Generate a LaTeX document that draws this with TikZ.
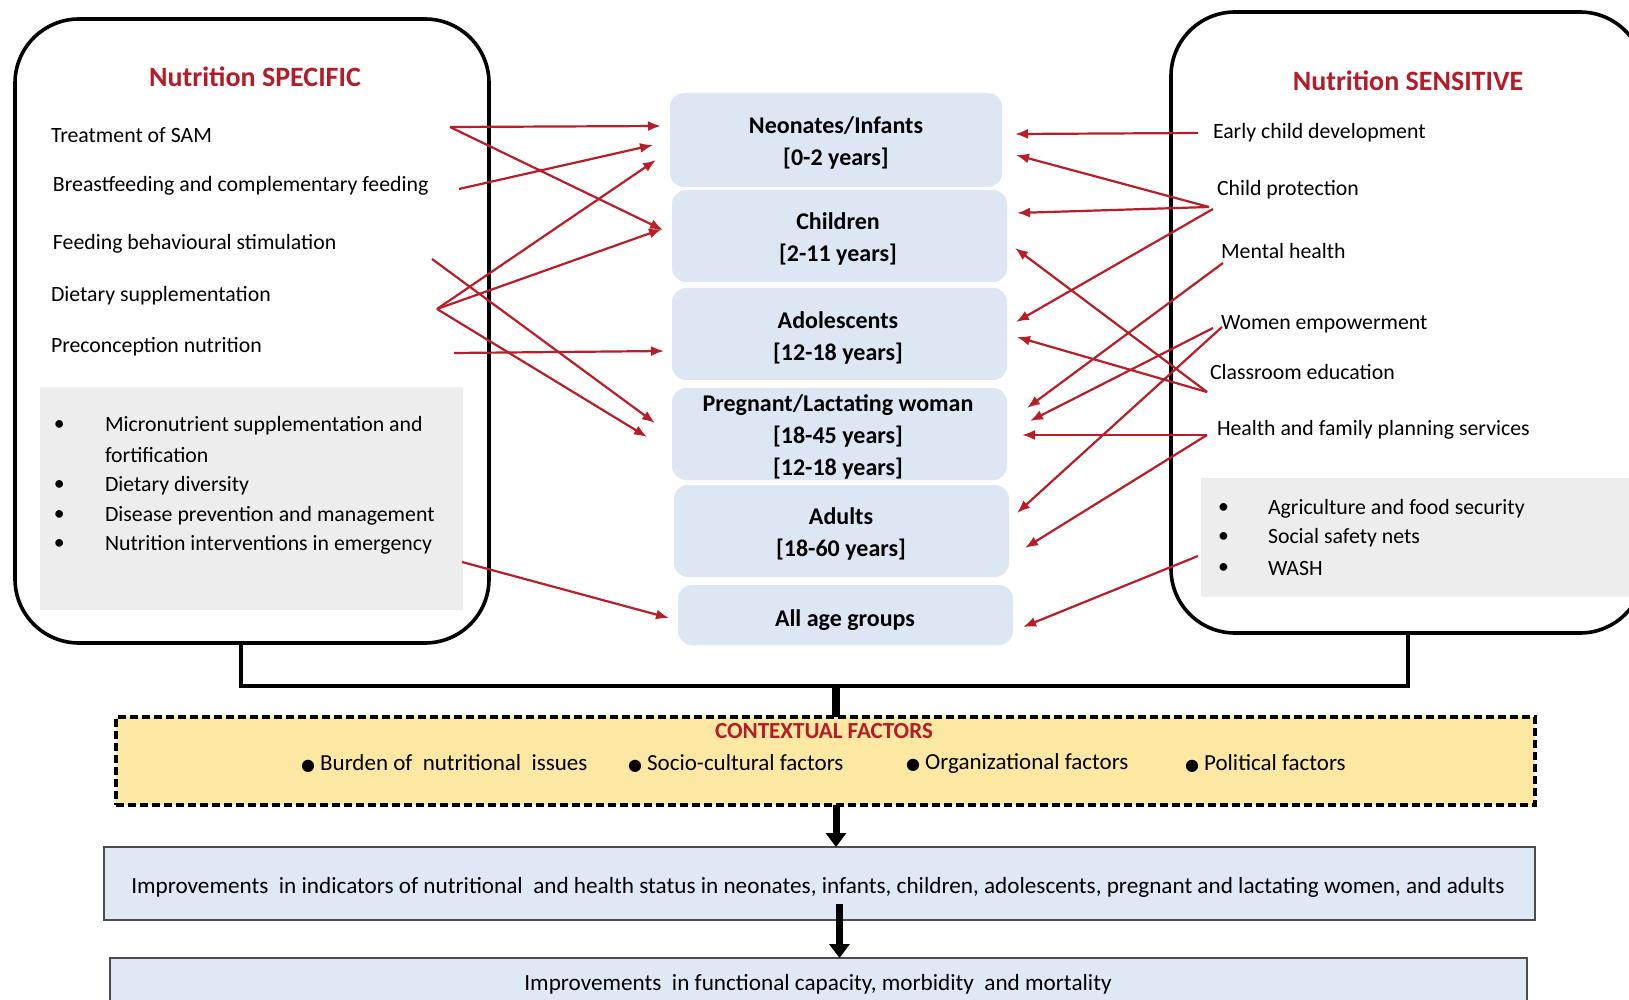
\documentclass[tikz,border=0pt]{standalone}
\usepackage{fontspec}
\setmainfont{Carlito}
\newfontfamily\dejavu{DejaVu Sans}
\usetikzlibrary{arrows.meta,fit,calc}
\definecolor{nred}{RGB}{180,28,40}
\definecolor{arred}{RGB}{185,30,40}
\definecolor{midblue}{RGB}{221,231,243}
\definecolor{greybg}{RGB}{237,237,237}
\definecolor{ctxyellow}{RGB}{252,232,162}
\definecolor{impblue}{RGB}{222,233,245}
\begin{document}
\begin{tikzpicture}[x=0.5pt,y=-0.5pt,
  every node/.style={inner sep=0pt, outer sep=0pt},
  bigbox/.style={draw=black, line width=1.8pt, rounded corners=32pt},
  greybox/.style={fill=greybg},
  agebox/.style={fill=midblue, rounded corners=7pt},
  agetxt/.style={align=center, font=\fontsize{12}{16.2}\selectfont\bfseries},
  title/.style={font=\fontsize{14}{16}\selectfont\bfseries, text=nred},
  item/.style={font=\fontsize{10.9}{12}\selectfont, anchor=west},
  bul/.style={font=\fontsize{10.9}{12}\selectfont, anchor=west},
  rarr/.style={draw=arred, line width=1.1pt, -{Latex[length=6.5pt,width=5pt]}},
  trunk/.style={draw=black, line width=2.2pt},
  trunkc/.style={draw=black, line width=4pt},
  bigarrow/.style={draw=black, line width=3.5pt, -{Triangle[length=7pt,width=10pt]}},
  ctxbox/.style={fill=ctxyellow, draw=black, line width=2pt, dash pattern=on 4pt off 2pt},
  ctxtitle/.style={font=\fontsize{11.5}{13}\selectfont\bfseries, text=nred},
  ctxitem/.style={font=\fontsize{11.5}{13}\selectfont, anchor=west},
  impbox/.style={fill=impblue, draw=black!70, line width=0.6pt},
  imptxt/.style={font=\fontsize{11.6}{13}\selectfont}
]
\useasboundingbox[fill=white] (0,0) rectangle (1629,1000);

% ---------- left: nutrition specific ----------
\node[bigbox, fit={(15,19)(489,643)}] (spec) {};
\node[greybox, fit={(40,387)(463,610)}] (specgrey) {};
\node[title] (spect) at (255,77) {Nutrition SPECIFIC};
\node[item] (sam) at (51,135) {Treatment of SAM};
\node[item] (bf)  at (53,186) {Breastfeeding and complementary feeding};
\node[item] (fbs) at (53,244) {Feeding behavioural stimulation};
\node[item] (ds)  at (51,296) {Dietary supplementation};
\node[item] (pcn) at (51,347) {Preconception nutrition};
\node[bul]  (lb1) at (54,426) {•};
\node[item] (lm1) at (105,426) {Micronutrient supplementation and};
\node[item] (lm1b) at (105,455) {fortification};
\node[bul]  (lb2) at (54,486) {•};
\node[item] (lm2) at (105,486) {Dietary diversity};
\node[bul]  (lb3) at (54,516) {•};
\node[item] (lm3) at (105,516) {Disease prevention and management};
\node[bul]  (lb4) at (54,545) {•};
\node[item] (lm4) at (105,545) {Nutrition interventions in emergency};

% ---------- right: nutrition sensitive ----------
\node[bigbox, fit={(1171,12)(1644,633)}] (sens) {};
\node[greybox, fit={(1201,478)(1640,597)}] (sensgrey) {};
\node[title] (senst) at (1408,81) {Nutrition SENSITIVE};
\node[item] (ecd) at (1213,133) {Early child development};
\node[item] (cp)  at (1217,190) {Child protection};
\node[item] (mh)  at (1221,251) {Mental health};
\node[item] (we)  at (1221,324) {Women empowerment};
\node[item] (ce)  at (1210,372) {Classroom education};
\node[item] (hf)  at (1217,430) {Health and family planning services};
\node[bul]  (rb1) at (1218,509) {•};
\node[item] (rm1) at (1268,509) {Agriculture and food security};
\node[bul]  (rb2) at (1218,538) {•};
\node[item] (rm2) at (1268,538) {Social safety nets};
\node[bul]  (rb3) at (1218,569) {•};
\node[item] (rm3) at (1268,569) {WASH};

% ---------- middle: age groups ----------
\node[agebox, fit={(670,93)(1002,187)}] (neo) {};
\node[agebox, fit={(672,190)(1007,282)}] (chi) {};
\node[agebox, fit={(672,288)(1007,380)}] (ado) {};
\node[agebox, fit={(672,388)(1007,480)}] (pre) {};
\node[agebox, fit={(674,485)(1009,577)}] (adu) {};
\node[agebox, fit={(678,585)(1013,645)}] (all) {};
\node[agetxt] (neot) at (836,143) {Neonates/Infants\\{[}0-2 years{]}};
\node[agetxt] (chit) at (838,239) {Children\\{[}2-11 years{]}};
\node[agetxt] (adot) at (838,338) {Adolescents\\{[}12-18 years{]}};
\node[agetxt] (pret) at (838,437) {Pregnant/Lactating woman\\{[}18-45 years{]}\\{[}12-18 years{]}};
\node[agetxt] (adut) at (841,534) {Adults\\{[}18-60 years{]}};
\node[agetxt] (allt) at (845,620) {All age groups};

% ---------- red connectors: left ----------
\coordinate (sSAM) at (450,127);
\coordinate (sBF)  at (459,189);
\coordinate (sFB)  at (432,259);
\coordinate (sDS)  at (437,309);
\coordinate (sPC)  at (454,353);
\coordinate (sGL)  at (462,562);
\coordinate (tNeo1) at (661,126);
\coordinate (tNeo2) at (653,145);
\coordinate (tNeo3) at (656,160);
\coordinate (tChi1) at (663,230);
\coordinate (tChi2) at (662,229);
\coordinate (tAdo1) at (664,351);
\coordinate (tPre1) at (655,423);
\coordinate (tPre2) at (647,437);
\coordinate (tAll1) at (669,618);
\draw[rarr] (sSAM) -- (tNeo1);
\draw[rarr] (sSAM) -- (tChi1);
\draw[rarr] (sBF) -- (tNeo2);
\draw[rarr] (sDS) -- (tNeo3);
\draw[rarr] (sDS) -- (tChi2);
\draw[rarr] (sDS) -- (tPre2);
\draw[rarr] (sFB) -- (tPre1);
\draw[rarr] (sPC) -- (tAdo1);
\draw[rarr] (sGL) -- (tAll1);

% ---------- red connectors: right ----------
\coordinate (sECD) at (1198,133);
\coordinate (sCP)  at (1209,207);
\coordinate (sCPb) at (1213,209);
\coordinate (sMH)  at (1223,263);
\coordinate (sWE)  at (1213,328);
\coordinate (sWEb) at (1222,327);
\coordinate (sCE)  at (1207,392);
\coordinate (sHF)  at (1207,435);
\coordinate (sGR)  at (1198,556);
\coordinate (uNeo1) at (1015,134);
\coordinate (uNeo2) at (1016,155);
\coordinate (uChi1) at (1017,213);
\coordinate (uChi2) at (1015,248);
\coordinate (uAdo1) at (1016,322);
\coordinate (uAdo2) at (1017,337);
\coordinate (uPre1) at (1027,408);
\coordinate (uPre2) at (1030,421);
\coordinate (uPre3) at (1022,435);
\coordinate (uAdu1) at (1017,513);
\coordinate (uAdu2) at (1025,548);
\coordinate (uAll1) at (1023,627);
\draw[rarr] (sECD) -- (uNeo1);
\draw[rarr] (sCP) -- (uNeo2);
\draw[rarr] (sCP) -- (uChi1);
\draw[rarr] (sCPb) -- (uAdo1);
\draw[rarr] (sCE) -- (uChi2);
\draw[rarr] (sCE) -- (uAdo2);
\draw[rarr] (sMH) -- (uPre1);
\draw[rarr] (sWE) -- (uPre2);
\draw[rarr] (sWEb) -- (uAdu1);
\draw[rarr] (sHF) -- (uPre3);
\draw[rarr] (sHF) -- (uAdu2);
\draw[rarr] (sGR) -- (uAll1);

% ---------- contextual factors ----------
\node[ctxbox, fit={(116,717)(1535,805)}] (ctx) {};
\node[ctxtitle] (ctxt) at (824,731) {CONTEXTUAL FACTORS};
\node[ctxitem] (cf1) at (301,763) {{\dejavu\fontsize{8}{8}\selectfont ●} Burden of\ \ nutritional\ \ issues};
\node[ctxitem] (cf2) at (628,763) {{\dejavu\fontsize{8}{8}\selectfont ●} Socio-cultural factors};
\node[ctxitem] (cf3) at (906,763) {{\dejavu\fontsize{8}{8}\selectfont ●} Organizational factors};
\node[ctxitem] (cf4) at (1185,763) {{\dejavu\fontsize{8}{8}\selectfont ●} Political factors};

% ---------- trunk ----------
\coordinate (jL) at (241,686);
\coordinate (jR) at (1408,686);
\coordinate (jC) at (836,686);
\draw[trunk] (spec.south -| jL) -- (jL) -- (jR) -- (sens.south -| jR);
\draw[trunkc] (jC) -- (ctx.north -| jC);

% ---------- outcomes ----------
\node[impbox, fit={(104,847)(1535,920)}] (imp1) {};
\node[imptxt] (imp1t) at (818,887) {Improvements\ \ in indicators of nutritional\ \ and health status in neonates, infants, children, adolescents, pregnant and lactating women, and adults};
\node[impbox, fit={(110,958)(1527,1010)}] (imp2) {};
\node[imptxt] (imp2t) at (818,984) {Improvements\ \ in functional capacity, morbidity\ \ and mortality};
\coordinate (a2) at (839.5,904);
\draw[bigarrow] (ctx.south -| jC) -- (imp1.north -| jC);
\draw[bigarrow] (a2) -- (imp2.north -| a2);
\end{tikzpicture}
\end{document}
